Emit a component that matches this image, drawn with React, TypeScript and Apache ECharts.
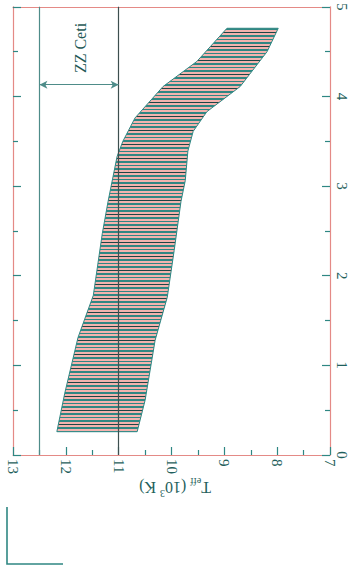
import React, { useEffect, useRef } from "react";
import * as echarts from "echarts";

// Instability strip boundaries (x: Teff in 10^3 K, y: vertical axis value)
const hotEdgeY = [0.26, 0.69, 1.31, 1.78, 2.47, 2.83, 3.33, 3.5, 3.76, 4.11, 4.39, 4.76];
const hotEdgeTeff = [12.17, 12.02, 11.77, 11.48, 11.31, 11.2, 11.03, 10.92, 10.69, 10.16, 9.52, 8.95];
const coolEdgeY = [0.26, 0.61, 1.28, 1.76, 2.28, 2.83, 3.06, 3.39, 3.61, 3.83, 4.11, 4.5, 4.76];
const coolEdgeTeff = [10.65, 10.5, 10.31, 10.08, 9.95, 9.82, 9.74, 9.69, 9.59, 9.33, 8.7, 8.19, 7.98];

// ZZ Ceti observed strip
const zzCetiBounds = [12.5, 11.0];
const zzCetiArrowY = 4.13;

const xTicks = [7, 8, 9, 10, 11, 12, 13];
const yTicks = [0, 1, 2, 3, 4, 5];

const TEAL = "#2f8783";
const DARK = "#1f5956";
const FRAME = "#e48a86";
const LABEL = "#1f5f5c";
const SERIF = "'Liberation Serif', 'DejaVu Serif', serif";

export default function App() {
  const ref = useRef<HTMLDivElement>(null);

  useEffect(() => {
    if (!ref.current) return;
    const chart = echarts.init(ref.current, undefined, { renderer: "svg" });

    const polygonData = [0];

    const axisCommonY = {
      type: "value" as const,
      min: yTicks[0],
      max: yTicks[yTicks.length - 1],
      interval: 1,
      splitLine: { show: false },
    };

    const option: any = {
      animation: false,
      backgroundColor: "#ffffff",
      grid: { left: 13, right: 24, top: 5, bottom: 117, containLabel: false },
      xAxis: [
        {
          type: "value",
          min: xTicks[0],
          max: xTicks[xTicks.length - 1],
          interval: 1,
          inverse: true,
          position: "bottom",
          axisLine: { show: true, onZero: false, lineStyle: { color: FRAME, width: 1.2 } },
          axisTick: { show: true, inside: true, length: 8, lineStyle: { color: TEAL, width: 1.2 } },
          minorTick: { show: true, splitNumber: 2, length: 5, lineStyle: { color: TEAL, width: 1.2 } },
          splitLine: { show: false },
          axisLabel: {
            rotate: -90,
            fontSize: 15,
            color: LABEL,
            fontFamily: SERIF,
            margin: 4,
          },
        },
        {
          type: "value",
          min: xTicks[0],
          max: xTicks[xTicks.length - 1],
          inverse: true,
          position: "top",
          axisLine: { show: true, onZero: false, lineStyle: { color: FRAME, width: 1.2 } },
          axisTick: { show: false },
          axisLabel: { show: false },
          splitLine: { show: false },
        },
      ],
      yAxis: [
        {
          ...axisCommonY,
          position: "right",
          axisLine: { show: true, onZero: false, lineStyle: { color: FRAME, width: 1.2 } },
          axisTick: { show: true, inside: true, length: 8, lineStyle: { color: TEAL, width: 1.2 } },
          minorTick: { show: true, splitNumber: 2, length: 5, lineStyle: { color: TEAL, width: 1.2 } },
          axisLabel: {
            rotate: -90,
            fontSize: 15,
            color: LABEL,
            fontFamily: SERIF,
            margin: 4,
          },
        },
        {
          ...axisCommonY,
          position: "left",
          axisLine: { show: true, onZero: false, lineStyle: { color: FRAME, width: 1.2 } },
          axisTick: { show: true, inside: true, length: 8, lineStyle: { color: TEAL, width: 1.2 } },
          minorTick: { show: true, splitNumber: 2, length: 5, lineStyle: { color: TEAL, width: 1.2 } },
          axisLabel: { show: false },
        },
      ],
      series: [
        {
          type: "custom",
          xAxisIndex: 0,
          yAxisIndex: 0,
          data: polygonData,
          renderItem: (params: any, api: any) => {
            const pts: number[][] = [];
            for (let i = 0; i < hotEdgeY.length; i++) {
              pts.push(api.coord([hotEdgeTeff[i], hotEdgeY[i]]));
            }
            for (let i = coolEdgeY.length - 1; i >= 0; i--) {
              pts.push(api.coord([coolEdgeTeff[i], coolEdgeY[i]]));
            }
            let minY = Infinity;
            let maxY = -Infinity;
            pts.forEach((p) => {
              minY = Math.min(minY, p[1]);
              maxY = Math.max(maxY, p[1]);
            });
            const h = maxY - minY;
            const period = 3.5;
            const n = Math.ceil(h / period);
            const stops: any[] = [];
            for (let k = 0; k < n; k++) {
              const a = (k * period) / h;
              const b = Math.min(1, (k * period + 1.6) / h);
              const c = Math.min(1, ((k + 1) * period) / h);
              const col = k % 4 === 1 ? "#1d4645" : TEAL;
              stops.push({ offset: a, color: col });
              stops.push({ offset: b, color: col });
              stops.push({ offset: b, color: "#f3b3ae" });
              stops.push({ offset: c, color: "#f3b3ae" });
            }
            const grad = new echarts.graphic.LinearGradient(0, minY, 0, maxY, stops, true);
            return {
              type: "polygon",
              shape: { points: pts },
              style: { fill: grad, stroke: TEAL, lineWidth: 1 },
              silent: true,
            };
          },
          z: 2,
        },
        {
          type: "line",
          xAxisIndex: 0,
          yAxisIndex: 0,
          data: [],
          z: 3,
          markLine: {
            silent: true,
            symbol: ["none", "none"],
            label: { show: false },
            data: [
              { xAxis: zzCetiBounds[0], lineStyle: { color: "#4e8c89", width: 1.2, type: "solid" } },
              { xAxis: zzCetiBounds[1], lineStyle: { color: "#3d4f4f", width: 1.2, type: "solid" } },
              [
                {
                  coord: [zzCetiBounds[0], zzCetiArrowY],
                  symbol: "arrow",
                  symbolSize: [6, 8],
                  lineStyle: { color: "#4e8c89", width: 1.2, type: "solid" },
                },
                { coord: [zzCetiBounds[1], zzCetiArrowY], symbol: "arrow", symbolSize: [6, 8] },
              ],
            ],
          },
        },
      ],
      graphic: [
        {
          type: "text",
          x: 80,
          y: 48,
          rotation: Math.PI / 2,
          style: {
            text: "ZZ Ceti",
            fontFamily: SERIF,
            fontSize: 16,
            fill: DARK,
            textAlign: "center",
            textVerticalAlign: "middle",
          },
        },
        {
          type: "text",
          x: 175,
          y: 487,
          rotation: Math.PI,
          style: {
            text: "{t|T}{sub|eff}{t| (10}{sup|3}{t| K)}",
            textAlign: "center",
            textVerticalAlign: "middle",
            rich: {
              t: { fontSize: 16, fontFamily: SERIF, fill: LABEL, lineHeight: 22, verticalAlign: "middle" },
              sub: { fontSize: 10, fontFamily: SERIF, fill: LABEL, lineHeight: 22, verticalAlign: "bottom", padding: [8, 0, 0, 0] },
              sup: { fontSize: 10, fontFamily: SERIF, fill: LABEL, lineHeight: 22, verticalAlign: "top", padding: [0, 0, 8, 0] },
            },
          },
        },
        {
          type: "polyline",
          shape: { points: [[7, 507], [7, 564], [63, 564]] },
          style: { stroke: TEAL, lineWidth: 1.6, fill: "none" },
        },
      ],
    };

    chart.setOption(option);
    return () => chart.dispose();
  }, []);

  return (
    <div
      ref={ref}
      style={{ position: "fixed", left: 0, top: 0, width: 354, height: 572, background: "#fff" }}
    />
  );
}
